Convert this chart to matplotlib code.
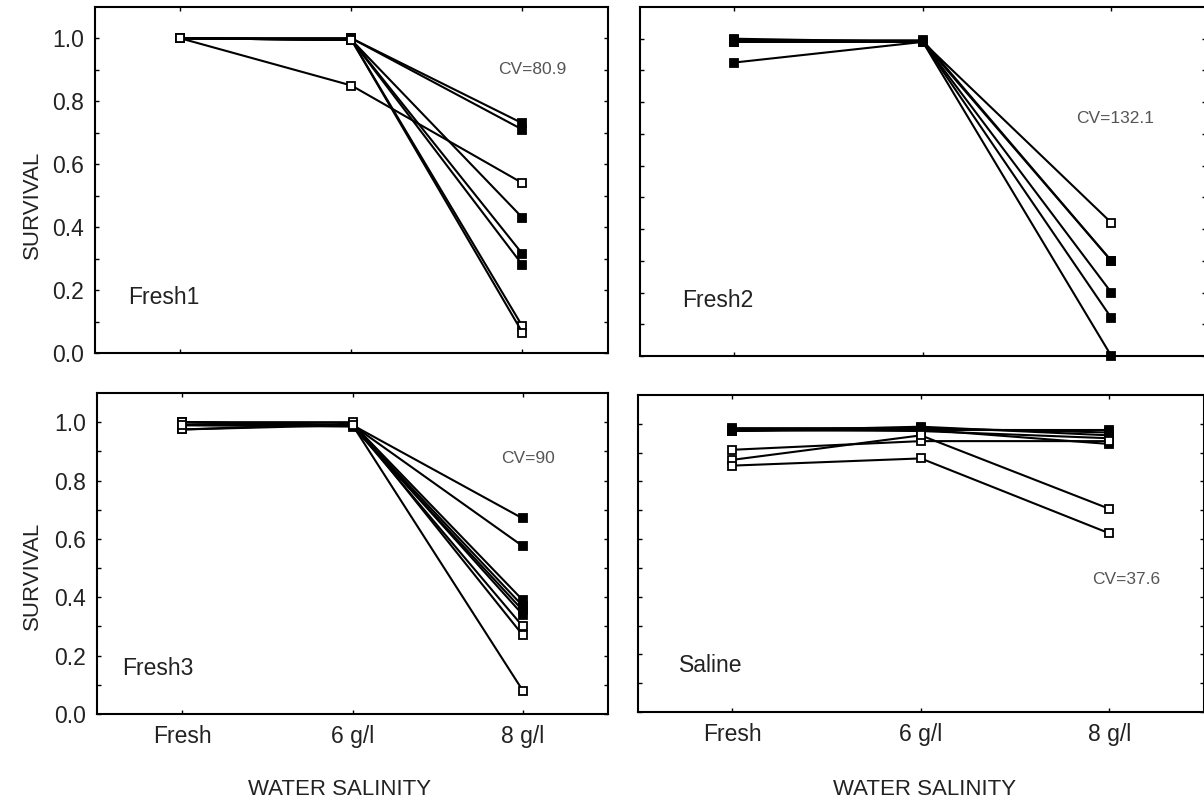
import matplotlib.pyplot as plt

plt.rcParams['font.family'] = ['Liberation Sans', 'DejaVu Sans']

# x categories
salinity = ["Fresh", "6 g/l", "8 g/l"]

# survival per line (Fresh, 6 g/l, 8 g/l), plus whether the marker is filled
fresh1 = [
    [1.0, 1.0, 0.73],
    [1.0, 1.0, 0.71],
    [1.0, 0.85, 0.54],
    [1.0, 0.995, 0.43],
    [1.0, 0.995, 0.315],
    [1.0, 0.995, 0.28],
    [1.0, 0.995, 0.085],
    [1.0, 0.995, 0.065],
]
fresh1_filled = [1, 1, 0, 1, 1, 1, 0, 0]

fresh2 = [
    [1.0, 0.99, 0.42],
    [0.995, 0.995, 0.30],
    [0.99, 0.99, 0.30],
    [0.925, 0.99, 0.20],
    [0.99, 0.99, 0.12],
    [0.995, 0.99, 0.0],
]
fresh2_filled = [0, 1, 1, 1, 1, 1]

fresh3 = [
    [1.0, 0.99, 0.67],
    [0.99, 0.99, 0.575],
    [0.975, 0.995, 0.39],
    [1.0, 0.99, 0.37],
    [0.99, 0.985, 0.355],
    [1.0, 0.99, 0.34],
    [0.975, 0.99, 0.30],
    [1.0, 1.0, 0.27],
    [0.99, 0.99, 0.08],
]
fresh3_filled = [1, 1, 1, 1, 1, 1, 0, 0, 0]

saline = [
    [0.98, 0.98, 0.98],
    [0.985, 0.985, 0.97],
    [0.975, 0.99, 0.96],
    [0.98, 0.975, 0.95],
    [0.975, 0.98, 0.93],
    [0.91, 0.94, 0.94],
    [0.875, 0.96, 0.705],
    [0.855, 0.88, 0.62],
]
saline_filled = [1, 1, 1, 1, 1, 0, 0, 0]

# name, CV note, data, fills, axes rect, CV position (data), name position (axes)
panels = [
    ("Fresh1", "CV=80.9", fresh1, fresh1_filled, [0.0789, 0.5615, 0.426, 0.430], (2.06, 0.90), (0.064, 0.16)),
    ("Fresh2", "CV=132.1", fresh2, fresh2_filled, [0.5316, 0.5578, 0.4697, 0.4335], (2.02, 0.75), (0.074, 0.16)),
    ("Fresh3", "CV=90", fresh3, fresh3_filled, [0.0806, 0.113, 0.4244, 0.3988], (2.03, 0.876), (0.05, 0.143)),
    ("Saline", "CV=37.6", saline, saline_filled, [0.530, 0.1155, 0.4697, 0.3938], (2.09, 0.46), (0.073, 0.148)),
]

fig = plt.figure(figsize=(12.04, 8.05), dpi=100)
x = list(range(len(salinity)))

for i, (name, cv, series, filled, pos, cvpos, namepos) in enumerate(panels):
    ax = fig.add_axes(pos)
    for vals, f in zip(series, filled):
        ax.plot(x, vals, color="black", lw=1.5, marker="s", ms=5.5,
                mec="black", mew=1.3, mfc="black" if f else "white",
                clip_on=False, zorder=3)
    right = i % 2 == 1
    ax.set_xlim(-0.5, 2.5)
    ax.set_ylim(0, 1.1)
    ax.set_xticks(x)
    ax.set_yticks([0.0, 0.2, 0.4, 0.6, 0.8, 1.0])
    ax.set_yticks([0.1, 0.3, 0.5, 0.7, 0.9], minor=True)
    ax.tick_params(which="both", direction="in", top=True, right=True,
                   length=3, width=1, labelsize=16.5, labelcolor="#222222", pad=8)
    if i < 2:
        ax.set_xticklabels([])
    else:
        ax.set_xticklabels(salinity)
    if right:
        ax.set_yticklabels([])
    else:
        ax.set_yticklabels([f"{v:.1f}" for v in [0.0, 0.2, 0.4, 0.6, 0.8, 1.0]])
    for s in ax.spines.values():
        s.set_linewidth(1.5)
    ax.text(namepos[0], namepos[1], name, transform=ax.transAxes, fontsize=16.5,
            color="#222222", va="center")
    ax.text(cvpos[0], cvpos[1], cv, fontsize=12.5, color="#555555",
            ha="center", va="center")

fig.text(0.018, 0.745, "SURVIVAL", rotation=90, fontsize=16, color="#222222", va="center")
fig.text(0.018, 0.285, "SURVIVAL", rotation=90, fontsize=16, color="#222222", va="center")
fig.text(0.282, 0.012, "WATER SALINITY", fontsize=16, color="#222222", ha="center")
fig.text(0.768, 0.012, "WATER SALINITY", fontsize=16, color="#222222", ha="center")

fig.savefig("out.png", dpi=100, facecolor="white")
